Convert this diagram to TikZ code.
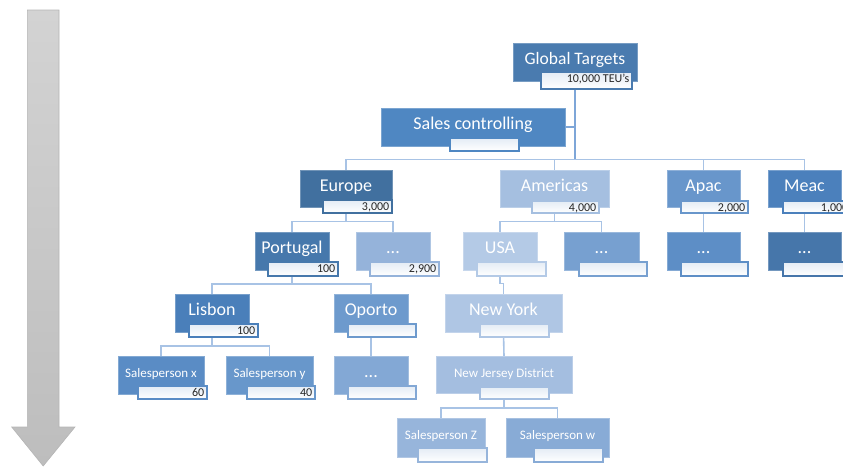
\documentclass[tikz,border=0pt]{standalone}
\usepackage{fontspec}
\setmainfont{Carlito}
\usetikzlibrary{backgrounds}

% box fills
\definecolor{cGT}{HTML}{4A7BAF}
\definecolor{cSC}{HTML}{4F87C2}
\definecolor{cEU}{HTML}{41709F}
\definecolor{cAM}{HTML}{A5BFE0}
\definecolor{cAP}{HTML}{6896CB}
\definecolor{cME}{HTML}{4B80BC}
\definecolor{cPT}{HTML}{4678AC}
\definecolor{cEO}{HTML}{95B3DA}
\definecolor{cUSA}{HTML}{B4CAE6}
\definecolor{cAO}{HTML}{77A0D0}
\definecolor{cAPO}{HTML}{5D8EC6}
\definecolor{cMEO}{HTML}{4676AA}
\definecolor{cLI}{HTML}{4A7FBA}
\definecolor{cOP}{HTML}{6D9ACD}
\definecolor{cOPO}{HTML}{83A8D5}
\definecolor{cNY}{HTML}{AFC6E4}
\definecolor{cSX}{HTML}{5A8CC5}
\definecolor{cSY}{HTML}{6897CB}
\definecolor{cNJ}{HTML}{A4BEE0}
\definecolor{cSZ}{HTML}{97B5DB}
\definecolor{cSW}{HTML}{88ABD6}
% lines and the side arrow
\definecolor{connblue}{HTML}{A8C3E5}
\definecolor{trunkblue}{HTML}{7EA6D8}
\definecolor{valtop}{HTML}{E4ECF5}
\definecolor{arrowtop}{HTML}{D3D3D3}
\definecolor{arrowbot}{HTML}{BDBDBD}
\definecolor{arrowedge}{HTML}{B5B5B5}

\tikzset{
  boxshape/.style={rectangle, inner sep=0pt, outer sep=0pt},
  conn/.style={draw=connblue, line width=1.6pt},
  trunk/.style={draw=trunkblue, line width=1.6pt},
  boxlabel/.style={text=white, anchor=base, inner sep=0pt},
  vallabel/.style={text=black!85, anchor=base east, inner sep=0pt,
                   font=\fontsize{12}{12}\selectfont},
}

% coloured box: name, x1, y1, x2, y2, fill, font size, text
\newcommand\mainbox[8]{%
  \pgfmathsetmacro\bw{#4-#2}\pgfmathsetmacro\bh{#5-#3}%
  \pgfmathsetmacro\bx{(#2+#4)/2}\pgfmathsetmacro\by{(#3+#5)/2}%
  \node[boxshape, fill=#6, draw=#6!75!white, line width=0.6pt,
        minimum width=\bw pt, minimum height=\bh pt] (#1) at (\bx,\by) {};
  \node[boxlabel, font=\fontsize{#7}{#7}\selectfont] (#1-label)
        at ([yshift=-21.5pt]#1.north) {#8};
}
% value field: name, x1, y1, x2, y2, border, value
\newcommand\valuebox[7]{%
  \pgfmathsetmacro\bw{#4-#2}\pgfmathsetmacro\bh{#5-#3}%
  \pgfmathsetmacro\bx{(#2+#4)/2}\pgfmathsetmacro\by{(#3+#5)/2}%
  \node[boxshape, top color=valtop, bottom color=white, draw=#6, line width=1.1pt,
        minimum width=\bw pt, minimum height=\bh pt] (#1) at (\bx,\by) {};
  \ifx\relax#7\relax\else
  \node[vallabel] (#1-label) at ([xshift=-2.5pt,yshift=-10pt]#1.north east) {#7};
  \fi
}

\begin{document}
\begin{tikzpicture}[x=1pt, y=-1pt]
\useasboundingbox (0,0) rectangle (843,466);
\clip (0,0) rectangle (843,466);

% time arrow on the left
\path[draw=arrowedge, line width=0.6pt, top color=arrowtop, bottom color=arrowbot]
  (27.3,10) -- (59,10) -- (59,427) -- (75,427) -- (43.2,466)
  -- (11.7,427) -- (27.3,427) -- cycle;

% level 0
\mainbox{gt}{513}{43}{637}{81}{cGT}{17.5}{Global Targets}
\valuebox{gtv}{541}{72}{632}{89}{cGT}{10,000 TEU's}
\mainbox{sc}{381}{108}{565}{146}{cSC}{18}{Sales controlling}
\valuebox{scv}{450}{138}{519}{151}{cSC}{}

% level 1: regions
\mainbox{eu}{300}{170}{392}{207}{cEU}{18}{Europe}
\valuebox{euv}{323}{200}{392}{213}{cEU}{3,000}
\mainbox{am}{500}{170}{609}{207}{cAM}{18}{Americas}
\valuebox{amv}{532}{201}{599}{213}{cAM}{4,000}
\mainbox{ap}{667}{170}{740}{207}{cAP}{18}{Apac}
\valuebox{apv}{681}{201}{748}{213}{cAP}{2,000}
\mainbox{me}{768}{170}{841}{207}{cME}{18}{Meac}
\valuebox{mev}{783}{201}{851}{213}{cME}{1,000}

% level 2: countries
\mainbox{pt}{255}{232}{329}{270}{cPT}{18}{Portugal}
\valuebox{ptv}{268}{262}{338}{276}{cPT}{100}
\mainbox{eo}{356}{232}{430}{270}{cEO}{18}{...}
\valuebox{eov}{370}{262}{439}{276}{cEO}{2,900}
\mainbox{usa}{463}{232}{537}{270}{cUSA}{18}{USA}
\valuebox{usav}{477}{262}{546}{276}{cUSA}{}
\mainbox{ao}{564}{232}{639}{270}{cAO}{18}{...}
\valuebox{aov}{579}{262}{647}{276}{cAO}{}
\mainbox{apo}{667}{232}{740}{270}{cAPO}{18}{...}
\valuebox{apov}{681}{262}{748}{276}{cAPO}{}
\mainbox{meo}{768}{232}{841}{270}{cMEO}{18}{...}
\valuebox{meov}{783}{262}{851}{276}{cMEO}{}

% level 3: cities
\mainbox{li}{175}{294}{249}{332}{cLI}{18}{Lisbon}
\valuebox{liv}{189}{324}{258}{337}{cLI}{100}
\mainbox{op}{334}{294}{408}{332}{cOP}{18}{Oporto}
\valuebox{opv}{348}{324}{416}{337}{cOP}{}
\mainbox{ny}{445}{294}{562}{332}{cNY}{18}{New York}
\valuebox{nyv}{480}{324}{549}{337}{cNY}{}

% level 4
\mainbox{sx}{118}{356}{204}{394}{cSX}{13}{Salesperson x}
\valuebox{sxv}{138}{386}{207}{399}{cSX}{60}
\mainbox{sy}{226}{356}{313}{394}{cSY}{13}{Salesperson y}
\valuebox{syv}{247}{386}{315}{399}{cSY}{40}
\mainbox{opo}{334}{356}{408}{394}{cOPO}{18}{...}
\valuebox{opov}{348}{386}{416}{399}{cOPO}{}
\mainbox{nj}{436}{356}{572}{393}{cNJ}{13}{New Jersey District}
\valuebox{njv}{480}{387}{549}{399}{cNJ}{}

% level 5
\mainbox{sz}{397}{418}{485}{457}{cSZ}{13}{Salesperson Z}
\valuebox{szv}{418}{448}{487}{462}{cSZ}{}
\mainbox{sw}{506}{418}{609}{457}{cSW}{13}{Salesperson w}
\valuebox{swv}{534}{448}{603}{462}{cSW}{}

% connectors behind the boxes
\begin{pgfonlayer}{background}
  \foreach \c in {eu,am,ap,me}
    \draw[conn] (gt.south) -- ++(0,78.3) -| (\c.north);
  \draw[trunk] (gt.south) -- ++(0,78.3);
  \draw[trunk] (sc.east) -- (sc.east -| gt.south);

  \foreach \c in {pt,eo}
    \draw[conn] (eu.south) -- ++(0,14.4) -| (\c.north);
  \foreach \c in {usa,ao}
    \draw[conn] (am.south) -- ++(0,14.4) -| (\c.north);
  \draw[conn] (ap.south) -- (apo.north);
  \draw[conn] (me.south) -- (meo.north);

  \foreach \c in {li,op}
    \draw[conn] (pt.south) -- ++(0,14) -| (\c.north);
  \draw[conn] (usa.south) -- ++(0,13.5) -| (ny.north);

  \foreach \c in {sx,sy}
    \draw[conn] (li.south) -- ++(0,14) -| (\c.north);
  \draw[conn] (op.south) -- (opo.north);
  \draw[conn] (ny.south) -- (nj.north);

  \foreach \c in {sz,sw}
    \draw[conn] (nj.south) -- ++(0,15) -| (\c.north);
\end{pgfonlayer}
\end{tikzpicture}
\end{document}
